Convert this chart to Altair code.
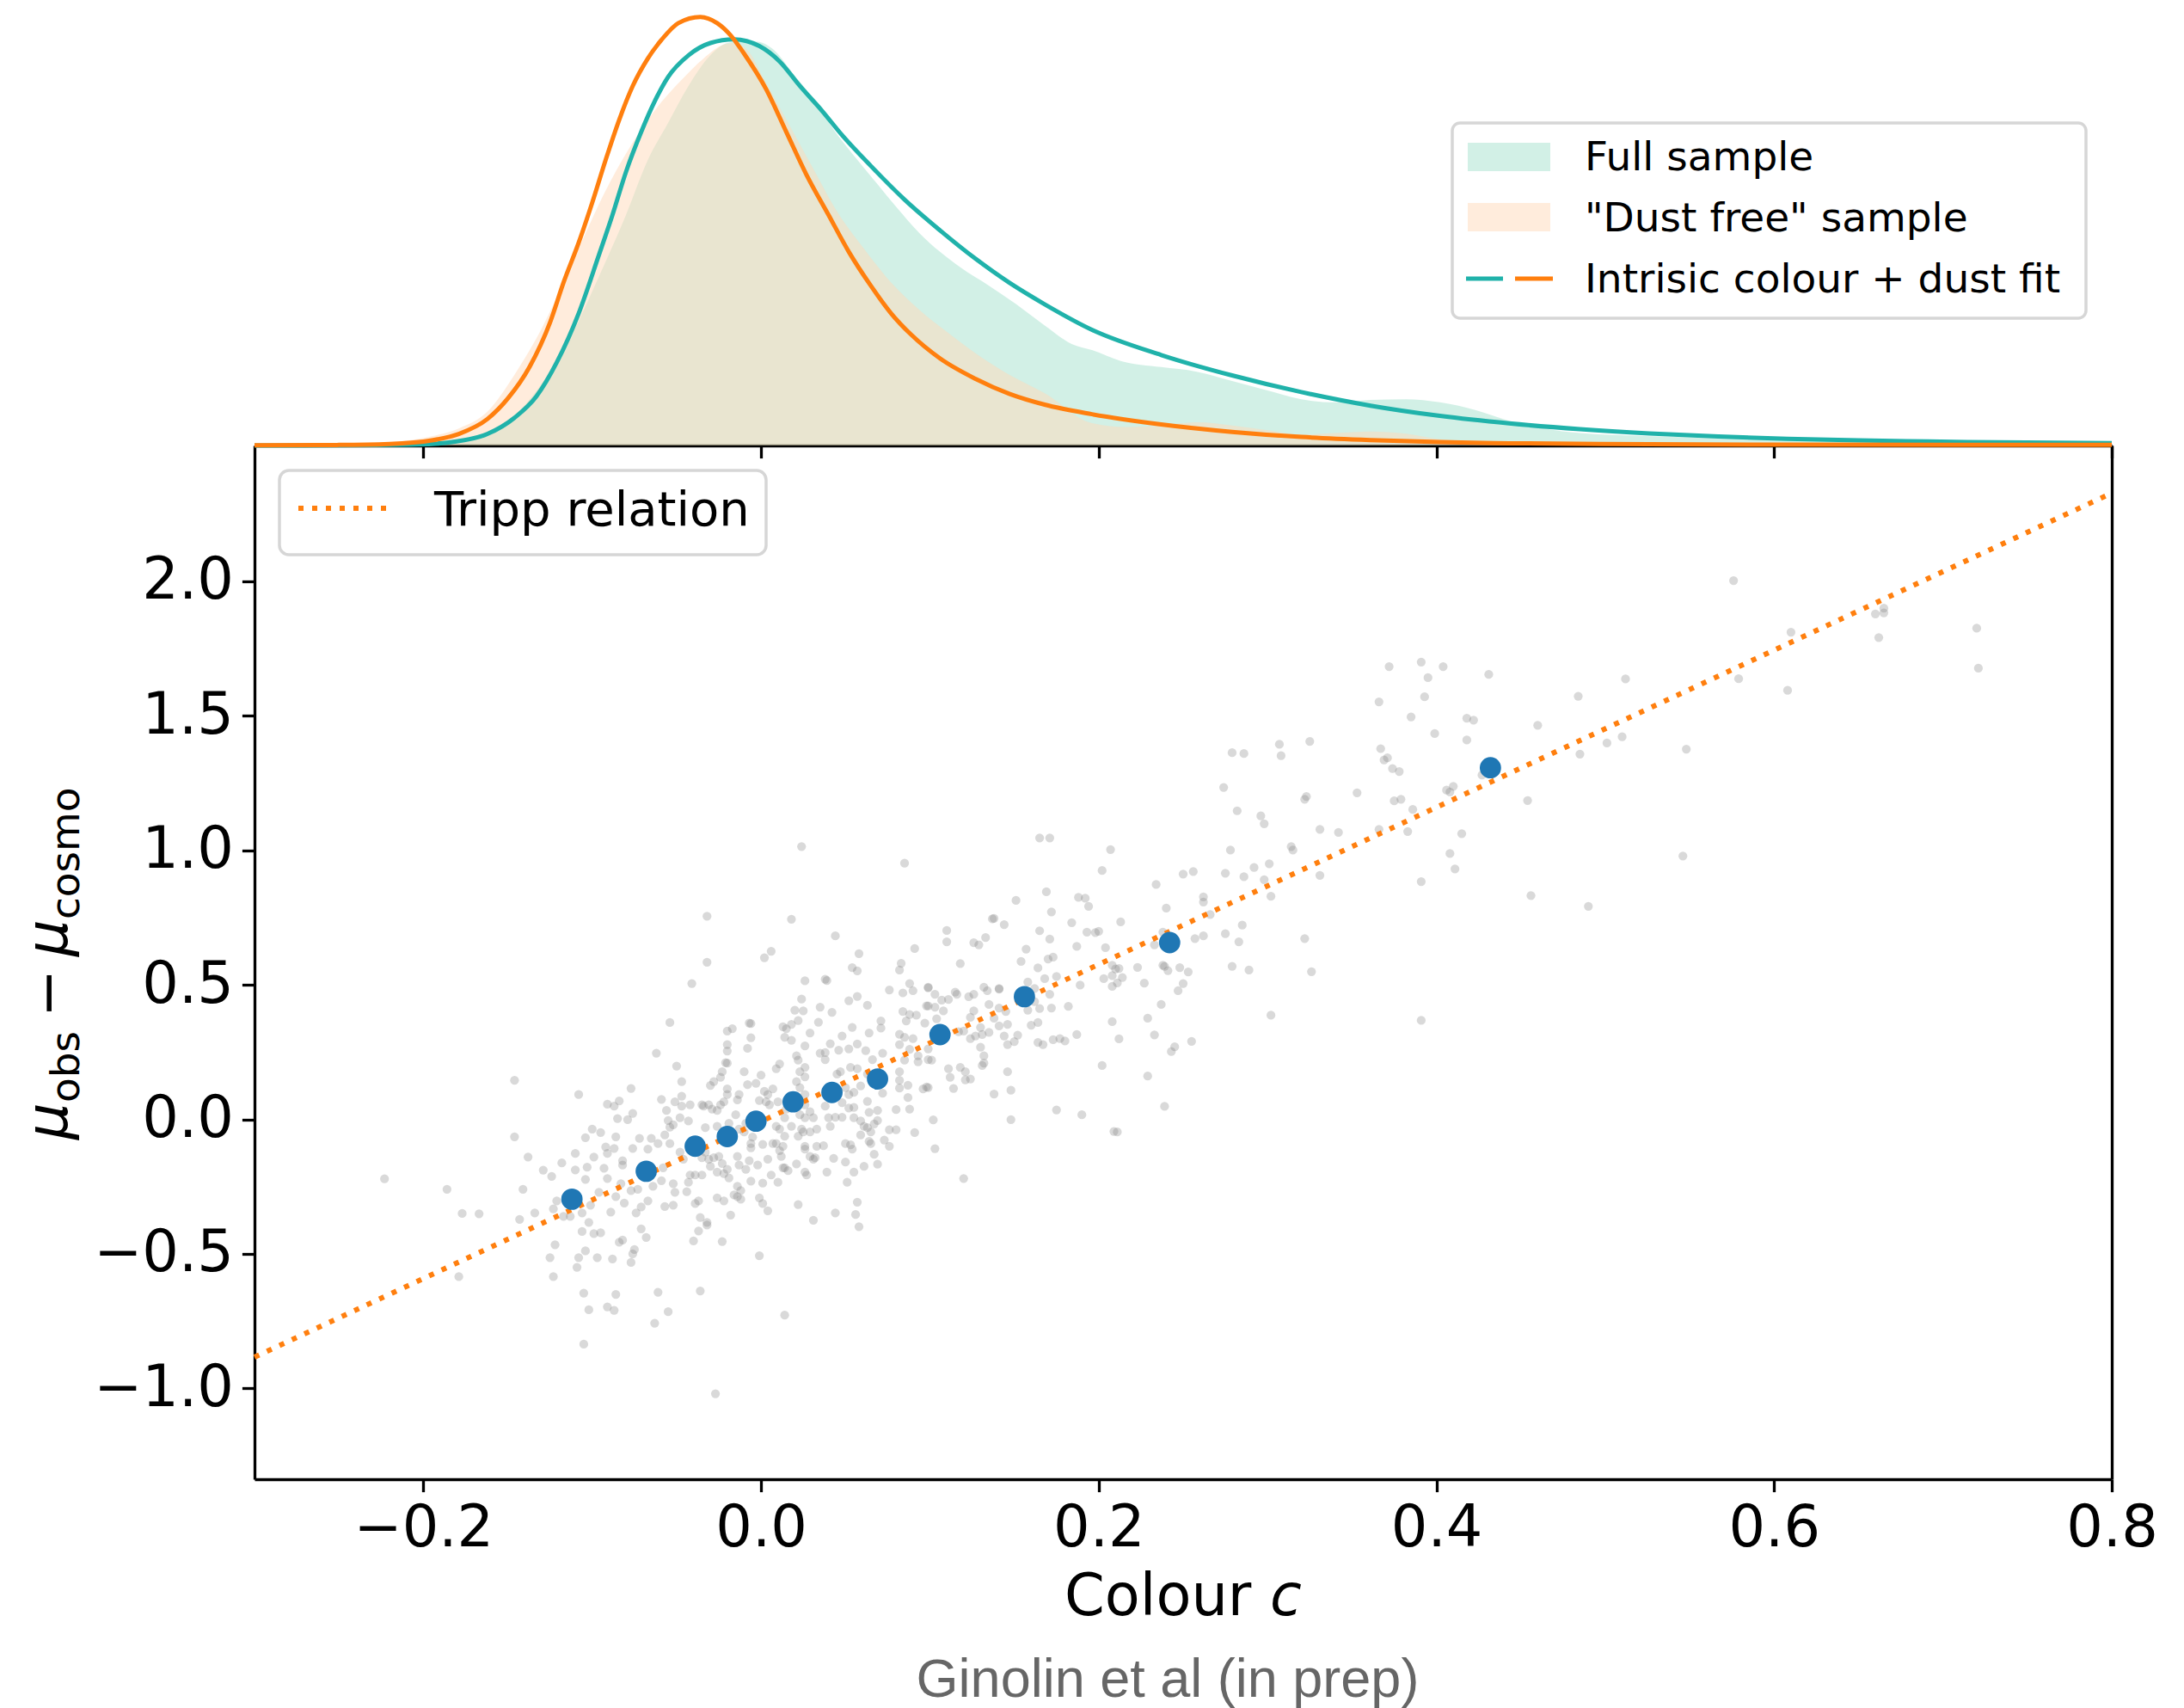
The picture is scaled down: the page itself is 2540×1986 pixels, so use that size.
import altair as alt
import pandas as pd

# ---------------- layout constants ----------------
W, H = 2160, 1720          # view: density panel (top) + main panel (bottom)
PANEL_TOP = 518            # pixel row where the main panel starts
X_DOMAIN = [-0.3, 0.8]
MU_DOMAIN = [-1.338, 2.505]
DENS_DOMAIN = [0, 6.548]
X_TICKS = [-0.2, 0.0, 0.2, 0.4, 0.6, 0.8]
MU_TICKS = [-1.0, -0.5, 0.0, 0.5, 1.0, 1.5, 2.0]

# ---------------- texts ----------------
X_LABEL = ["Colour", "c"]
Y_LABEL = ["μ", "obs", "−", "μ", "cosmo"]
CREDIT = "Ginolin et al (in prep)"
KDE_LEGEND = ["Full sample", "\"Dust free\" sample", "Intrisic colour + dust fit"]
MAIN_LEGEND = ["Tripp relation"]

# ---------------- scatter data (c, mu) ----------------
pts_left = [
(-0.146,0.145),(-0.108,0.092),(-0.077,0.115),(-0.146,-0.065),(-0.223,-0.221),(-0.138,-0.140),(-0.186,-0.260),(-0.141,-0.260),(-0.177,-0.350),(-0.167,-0.351),
(-0.129,-0.189),(-0.124,-0.212),(-0.118,-0.162),(-0.110,-0.127),(-0.110,-0.188),(-0.104,-0.068),(-0.100,-0.036),(-0.095,-0.049),(-0.091,0.056),(-0.087,0.049),
(-0.084,0.068),(-0.085,0.003),(-0.079,-0.001),(-0.076,0.022),(-0.086,-0.065),(-0.092,-0.103),(-0.087,-0.108),(-0.091,-0.127),(-0.099,-0.140),(-0.103,-0.178),
(-0.104,-0.223),(-0.093,-0.182),(-0.091,-0.220),(-0.082,-0.154),(-0.082,-0.170),(-0.076,-0.108),(-0.072,-0.071),(-0.067,-0.111),(-0.065,-0.071),(-0.061,-0.090),
(-0.059,0.074),(-0.056,0.033),(-0.055,-0.004),(-0.054,-0.029),(-0.057,-0.058),(-0.058,-0.180),(-0.059,-0.228),(-0.057,-0.324),(-0.067,-0.303),(-0.071,-0.326),
(-0.074,-0.348),(-0.071,-0.407),(-0.068,-0.439),(-0.081,-0.311),(-0.089,-0.345),(-0.086,-0.287),(-0.083,-0.239),(-0.077,-0.265),(-0.073,-0.260),(-0.064,-0.249),
(-0.096,-0.271),(-0.101,-0.319),(-0.106,-0.348),(-0.102,-0.383),(-0.113,-0.361),(-0.117,-0.361),(-0.121,-0.303),(-0.123,-0.333),(-0.134,-0.348),(-0.143,-0.372),
(-0.106,-0.417),(-0.099,-0.425),(-0.095,-0.422),(-0.122,-0.466),(-0.125,-0.514),(-0.108,-0.514),(-0.104,-0.489),(-0.109,-0.550),(-0.097,-0.514),(-0.088,-0.519),
(-0.084,-0.457),(-0.082,-0.449),(-0.075,-0.484),(-0.076,-0.500),(-0.077,-0.532),(-0.123,-0.585),(-0.179,-0.585),(-0.105,-0.646),(-0.102,-0.708),(-0.091,-0.697),
(-0.087,-0.710),(-0.086,-0.651),(-0.061,-0.643),(-0.055,-0.715),(-0.063,-0.758),(-0.105,-0.836),
(0.014,-0.728),(-0.027,-1.020),(-0.062,0.246),
]
pts_core = [
(-0.032,0.584),(0.002,0.601),(0.006,0.625),(-0.041,0.505),(0.058,0.616),(0.054,0.564),(0.057,0.552),(0.083,0.580),(0.082,0.555),(0.091,0.635),
(0.026,0.515),(0.038,0.521),(0.039,0.516),(0.024,0.447),(0.020,0.406),(0.025,0.403),(0.035,0.417),(0.042,0.398),(0.052,0.441),(0.057,0.457),
(0.063,0.424),(0.076,0.481),(0.084,0.470),(0.088,0.505),(0.090,0.478),(0.099,0.489),(0.098,0.422),(0.084,0.401),(0.088,0.390),(0.092,0.387),
(0.086,0.366),(0.097,0.358),(0.071,0.366),(0.071,0.339),(0.064,0.321),(0.054,0.342),(0.048,0.310),(0.052,0.262),(0.057,0.280),(0.062,0.255),
(0.066,0.222),(0.072,0.246),(0.082,0.316),(0.085,0.305),(0.090,0.300),(0.082,0.278),(0.088,0.260),(0.093,0.236),(0.093,0.214),(0.099,0.222),
(0.085,0.220),(0.082,0.177),(0.087,0.127),(0.082,0.145),(0.082,0.116),(0.087,0.081),(0.096,0.113),(0.098,0.120),(0.080,0.036),(0.088,0.038),
(0.091,-0.049),(0.076,-0.039),(0.080,-0.039),(0.076,-0.100),(0.073,-0.077),(0.069,-0.167),(0.067,-0.130),(0.065,-0.047),(0.064,-0.082),(0.067,-0.017),
(0.064,0.026),(0.069,0.033),(0.059,-0.006),(0.061,-0.026),(0.055,0.006),(0.055,0.044),(0.052,0.042),(0.048,0.062),(0.050,0.118),(0.052,0.092),
(0.055,0.100),(0.059,0.124),(0.063,0.067),(0.072,0.097),(0.063,0.168),(0.057,0.188),(0.053,0.193),(0.047,0.177),(0.045,0.168),(0.038,0.222),
(0.038,0.248),(0.035,0.246),(0.041,0.281),(0.046,0.257),(0.038,0.049),(0.040,0.006),(0.041,-0.026),(0.044,0.008),(0.048,0.008),(0.050,-0.090),
(0.053,-0.095),(0.054,-0.111),(0.059,-0.058),(0.065,-0.090),(0.061,-0.175),(0.050,-0.159),(0.055,-0.196),(0.051,-0.234),(0.043,-0.145),(0.039,-0.196),
(0.037,-0.098),(0.033,-0.036),(0.031,0.006),(0.029,0.028),(0.026,0.054),(0.026,0.092),(0.023,0.118),(0.021,0.140),(0.023,0.177),(0.026,0.158),
(0.026,0.193),(0.022,0.220),(0.021,0.236),(0.026,0.273),(0.029,0.321),(0.018,0.294),(0.014,0.305),(0.015,0.337),(0.013,0.344),(0.018,0.353),
(0.022,0.367),(0.034,0.361),(0.011,0.206),(0.009,0.188),(0.000,0.164),(-0.010,0.177),(-0.008,0.129),(-0.003,0.134),(0.002,0.104),(0.004,0.092),
(0.007,0.113),(0.003,0.065),(-0.001,0.070),(0.005,0.054),(0.010,0.065),(0.015,0.038),(0.014,0.006),(0.023,0.017),(0.026,0.006),(0.024,-0.036),
(0.022,-0.063),(0.025,-0.047),(0.026,-0.100),(0.029,-0.047),(0.033,-0.100),(0.026,-0.111),(0.029,-0.138),(0.031,-0.148),(0.032,-0.143),(0.027,-0.207),
(0.026,-0.196),(0.021,-0.166),(0.014,-0.180),(0.016,-0.191),(0.013,-0.180),(0.012,-0.138),(0.011,-0.116),(0.013,-0.100),(0.014,-0.063),(0.018,-0.026),
(0.011,-0.036),(0.009,-0.026),(0.007,-0.090),(0.009,-0.090),(0.004,-0.148),(0.006,-0.207),(0.010,-0.234),(0.001,-0.237),(-0.006,-0.230),(-0.002,-0.170),
(-0.009,-0.186),(-0.013,-0.170),(-0.014,-0.138),(-0.007,-0.154),(-0.006,-0.106),(-0.006,-0.090),(0.001,-0.093),(-0.005,-0.066),(-0.010,-0.047),(-0.013,-0.036),
(-0.009,-0.015),(-0.015,0.017),(-0.014,0.072),(-0.013,0.092),(-0.020,0.113),(-0.020,0.092),(-0.022,0.065),(-0.024,0.054),(-0.026,0.033),(-0.029,0.038),
(-0.031,0.054),(-0.034,0.049),(-0.035,0.054),(-0.042,0.054),(-0.047,0.049),(-0.051,0.065),(-0.047,0.086),(-0.047,0.140),(-0.050,0.198),(-0.054,0.360),
(-0.007,0.358),(-0.006,0.356),(-0.006,0.303),(-0.008,0.264),(-0.020,0.328),(-0.017,0.337),(-0.020,0.278),(-0.020,0.254),(-0.020,0.209),(-0.021,0.211),
(-0.023,0.177),(-0.024,0.156),(-0.028,0.140),(-0.030,0.126),(-0.019,-0.015),(-0.026,-0.026),(-0.033,-0.031),(-0.043,-0.006),(-0.048,0.006),(-0.052,-0.020),
(-0.054,-0.090),(-0.048,-0.122),(-0.046,-0.148),(-0.035,-0.143),(-0.033,-0.122),(-0.031,-0.148),(-0.028,-0.143),(-0.025,-0.138),(-0.023,-0.164),(-0.020,-0.186),
(-0.022,-0.202),(-0.019,-0.218),(-0.026,-0.196),(-0.030,-0.175),(-0.035,-0.207),(-0.039,-0.207),(-0.042,-0.207),(-0.043,-0.234),(-0.044,-0.269),(-0.052,-0.239),
(-0.051,-0.271),(-0.052,-0.319),(-0.037,-0.303),(-0.039,-0.313),(-0.026,-0.292),(-0.022,-0.303),(-0.014,-0.249),(-0.012,-0.265),(-0.014,-0.287),(-0.012,-0.297),
(-0.016,-0.281),(-0.001,-0.292),(0.001,-0.313),(0.004,-0.340),(-0.018,-0.356),(-0.036,-0.365),(-0.032,-0.383),(-0.032,-0.393),(-0.037,-0.415),(-0.040,-0.452),
(-0.023,-0.454),(-0.001,-0.507),(-0.036,-0.638),(0.022,-0.317),(0.031,-0.375),(0.044,-0.348),(0.057,-0.308),(0.056,-0.354),(0.058,-0.399),(0.063,-0.031),
(0.069,-0.004),
(0.024,1.014),(-0.032,0.755),(0.018,0.744),(0.044,0.682),
]
pts_mid = [
(0.202,0.925),(0.169,0.846),(0.151,0.814),(0.188,0.825),(0.192,0.822),(0.194,0.792),(0.172,0.771),(0.138,0.747),(0.137,0.745),(0.144,0.724),
(0.110,0.702),(0.110,0.660),(0.126,0.657),(0.129,0.649),(0.133,0.676),(0.165,0.701),(0.171,0.670),(0.184,0.731),(0.193,0.696),(0.198,0.694),
(0.200,0.699),(0.187,0.643),(0.204,0.638),(0.157,0.633),(0.154,0.587),(0.164,0.563),(0.170,0.596),(0.173,0.603),(0.118,0.579),(0.168,0.523),
(0.175,0.531),(0.208,0.573),(0.210,0.559),(0.208,0.534),(0.203,0.523),(0.208,0.494),(0.189,0.499),(0.158,0.510),(0.162,0.486),(0.171,0.465),
(0.172,0.414),(0.182,0.420),(0.165,0.412),(0.162,0.438),(0.158,0.406),(0.160,0.350),(0.164,0.360),(0.146,0.353),(0.141,0.347),(0.145,0.401),
(0.141,0.414),(0.135,0.427),(0.138,0.376),(0.132,0.491),(0.134,0.478),(0.141,0.484),(0.141,0.486),(0.126,0.465),(0.123,0.456),(0.115,0.473),
(0.116,0.465),(0.111,0.446),(0.107,0.443),(0.103,0.465),(0.099,0.491),(0.099,0.422),(0.103,0.417),(0.108,0.403),(0.104,0.374),(0.126,0.403),
(0.124,0.379),(0.130,0.342),(0.127,0.310),(0.124,0.300),(0.131,0.315),(0.135,0.323),(0.144,0.310),(0.146,0.278),(0.150,0.289),(0.152,0.313),
(0.164,0.286),(0.167,0.278),(0.173,0.296),(0.177,0.300),(0.180,0.291),(0.187,0.315),(0.208,0.363),(0.130,0.268),(0.132,0.236),(0.132,0.209),
(0.131,0.200),(0.117,0.326),(0.120,0.328),(0.101,0.220),(0.099,0.262),(0.111,0.188),(0.118,0.193),(0.121,0.177),(0.124,0.150),(0.112,0.156),
(0.121,0.147),(0.114,0.115),(0.099,0.118),(0.138,0.094),(0.148,0.108),(0.146,0.177),(0.202,0.200),(0.175,0.035),(0.190,0.017),(0.148,-0.001),
(0.102,-0.002),(0.103,-0.109),(0.120,-0.220),(0.209,-0.045),
(0.165,1.046),(0.171,1.046),(0.085,0.952),(0.207,1.003),
]
pts_upper = [
(0.279,1.363),(0.286,1.360),(0.307,1.394),(0.308,1.352),(0.325,1.405),(0.367,1.378),(0.371,1.344),(0.369,1.336),(0.374,1.304),(0.378,1.293),
(0.274,1.234),(0.282,1.147),(0.296,1.128),(0.298,1.099),(0.322,1.190),(0.323,1.200),(0.353,1.214),(0.375,1.184),(0.379,1.190),(0.386,1.152),
(0.331,1.078),(0.342,1.067),(0.366,1.078),(0.383,1.070),(0.278,1.001),(0.314,1.014),(0.315,1.001),(0.250,0.912),(0.256,0.921),(0.275,0.915),
(0.286,0.902),(0.292,0.936),(0.301,0.950),(0.298,0.891),(0.302,0.829),(0.331,0.907),(0.234,0.873),(0.240,0.785),(0.262,0.827),(0.262,0.808),
(0.266,0.761),(0.213,0.734),(0.238,0.696),(0.233,0.649),(0.257,0.672),(0.262,0.682),(0.275,0.690),(0.285,0.722),(0.283,0.660),(0.322,0.672),
(0.238,0.573),(0.239,0.569),(0.241,0.553),(0.248,0.564),(0.253,0.548),(0.223,0.565),(0.212,0.561),(0.214,0.527),(0.211,0.507),(0.227,0.506),
(0.250,0.505),(0.247,0.478),(0.279,0.569),(0.289,0.555),(0.326,0.549),(0.237,0.427),(0.229,0.376),(0.233,0.314),(0.212,0.299),(0.245,0.270),
(0.243,0.252),(0.255,0.290),(0.302,0.387),(0.229,0.161),(0.239,0.048),(0.211,-0.047),
(0.372,1.683),(0.366,1.552),(0.385,1.496),
]
pts_right = [
(0.576,2.003),(0.391,1.700),(0.404,1.683),(0.395,1.642),(0.431,1.654),(0.393,1.571),(0.512,1.637),(0.484,1.573),(0.418,1.491),(0.422,1.484),
(0.460,1.465),(0.399,1.434),(0.418,1.410),(0.501,1.399),(0.510,1.422),(0.485,1.358),(0.548,1.376),(0.610,1.811),(0.579,1.638),(0.608,1.595),
(0.660,1.879),(0.665,1.900),(0.665,1.883),(0.662,1.791),(0.720,1.826),(0.721,1.677),(0.427,1.280),(0.406,1.224),(0.410,1.238),(0.408,1.217),
(0.454,1.185),(0.415,1.062),(0.408,0.988),(0.411,0.931),(0.391,0.884),(0.456,0.832),(0.490,0.792),(0.546,0.979),(0.391,0.368),
]

# binned means
bin_c = [-0.112, -0.068, -0.039, -0.020, -0.003, 0.019, 0.042, 0.069, 0.106, 0.156, 0.242, 0.432]
bin_mu = [-0.297, -0.193, -0.100, -0.064, -0.007, 0.065, 0.100, 0.150, 0.315, 0.456, 0.657, 1.307]

# Tripp relation (end points read at the axis limits)
tripp_c = [-0.3, 0.8]
tripp_mu = [-0.884, 2.328]

# ---------------- density panel ----------------
full_c = [-0.300,-0.250,-0.203,-0.183,-0.162,-0.137,-0.113,-0.096,-0.080,-0.067,-0.055,-0.043,-0.030,-0.020,-0.012,-0.003,0.007,0.019,0.032,0.044,
          0.057,0.069,0.081,0.094,0.106,0.118,0.135,0.151,0.168,0.184,0.196,0.213,0.237,0.258,0.279,0.299,0.320,0.340,0.361,0.382,
          0.402,0.423,0.443,0.464,0.485,0.526,0.567,0.608,0.650,0.691,0.732,0.800]
full_d = [0.0,0.003,0.010,0.047,0.137,0.679,1.582,2.485,3.388,4.200,4.742,5.283,5.735,5.916,5.939,5.939,5.826,5.465,5.058,4.607,
          4.200,3.839,3.478,3.117,2.846,2.620,2.349,2.079,1.763,1.492,1.402,1.243,1.152,1.085,0.949,0.814,0.679,0.634,0.670,0.679,
          0.634,0.521,0.363,0.250,0.182,0.137,0.115,0.101,0.092,0.079,0.047,0.024]
dust_c = [-0.300,-0.245,-0.220,-0.195,-0.179,-0.162,-0.146,-0.129,-0.117,-0.104,-0.092,-0.080,-0.063,-0.047,-0.034,-0.022,-0.016,-0.007,0.001,0.009,
          0.019,0.032,0.044,0.061,0.077,0.094,0.110,0.127,0.147,0.168,0.196,0.217,0.237,0.258,0.279,0.299,0.320,0.340,0.361,0.382,
          0.402,0.443,0.526,0.800]
dust_d = [0.010,0.024,0.047,0.137,0.250,0.498,1.040,1.762,2.394,3.116,3.748,4.290,4.923,5.374,5.690,5.893,5.916,5.781,5.419,5.058,
          4.607,4.020,3.478,2.891,2.395,1.989,1.673,1.357,1.040,0.769,0.330,0.273,0.295,0.341,0.295,0.228,0.160,0.182,0.205,0.173,
          0.092,0.047,0.024,0.010]
fitf_c = [-0.300,-0.250,-0.203,-0.183,-0.162,-0.146,-0.133,-0.121,-0.108,-0.096,-0.088,-0.080,-0.071,-0.063,-0.055,-0.043,-0.030,-0.016,-0.001,0.011,
          0.023,0.036,0.048,0.065,0.085,0.106,0.127,0.147,0.168,0.196,0.237,0.279,0.320,0.361,0.402,0.443,0.485,0.526,0.567,0.608,
          0.650,0.691,0.732,0.800]
fitf_d = [0.0,0.003,0.015,0.050,0.170,0.408,0.724,1.221,1.943,2.801,3.388,4.020,4.607,5.058,5.419,5.735,5.916,5.970,5.871,5.645,
          5.284,4.923,4.562,4.110,3.614,3.162,2.745,2.393,2.075,1.700,1.330,1.030,0.785,0.585,0.435,0.325,0.240,0.178,0.132,0.098,
          0.075,0.059,0.047,0.035]
fitd_c = [-0.300,-0.250,-0.220,-0.195,-0.179,-0.162,-0.150,-0.137,-0.125,-0.117,-0.108,-0.100,-0.092,-0.084,-0.076,-0.067,-0.059,-0.049,-0.036,-0.026,
          -0.018,-0.010,0.003,0.015,0.027,0.040,0.052,0.065,0.077,0.089,0.106,0.127,0.147,0.168,0.196,0.237,0.279,0.320,0.361,0.402,
          0.443,0.526,0.608,0.800]
fitd_d = [0.004,0.008,0.022,0.075,0.170,0.390,0.690,1.160,1.807,2.394,2.981,3.568,4.200,4.787,5.283,5.690,5.961,6.209,6.299,6.209,
          6.029,5.758,5.238,4.606,3.974,3.387,2.846,2.349,1.943,1.627,1.280,0.980,0.760,0.600,0.460,0.310,0.200,0.125,0.080,0.050,
          0.033,0.018,0.012,0.008]

# ---------------- styles ----------------
TEAL = "#20b2aa"
TEAL_FILL = "#1db584"
PEACH_FILL = "#ffdab9"
ORANGE = "#ff7f0e"
BLUE = "#1f77b4"
FONT = "DejaVu Sans"
LW = 3.3
TICK = 14.6

pts = pts_left + pts_core + pts_mid + pts_upper + pts_right
df_pts = pd.DataFrame(pts, columns=["c", "mu"])
df_bin = pd.DataFrame({"c": bin_c, "mu": bin_mu})
df_tripp = pd.DataFrame({"c": tripp_c, "mu": tripp_mu})
df_full = pd.DataFrame({"c": full_c, "d": full_d})
df_dust = pd.DataFrame({"c": dust_c, "d": dust_d})
df_fitf = pd.DataFrame({"c": fitf_c, "d": fitf_d})
df_fitd = pd.DataFrame({"c": fitd_c, "d": fitd_d})

xs = alt.Scale(domain=X_DOMAIN, nice=False, zero=False)
mus = alt.Scale(domain=MU_DOMAIN, range=[H, PANEL_TOP], nice=False, zero=False)
ds = alt.Scale(domain=DENS_DOMAIN, range=[PANEL_TOP, 0], nice=False, zero=False)

# --- density panel
kde_x = alt.X("c:Q", scale=xs, title=None,
              axis=alt.Axis(orient="bottom", offset=-(H - PANEL_TOP), values=X_TICKS, labels=False,
                            ticks=True, tickSize=TICK, tickWidth=LW, tickColor="black",
                            domain=True, domainColor="black", domainWidth=LW, grid=False, title=None))
kde_y = alt.Y("d:Q", scale=ds, axis=None)
full_fill = alt.Chart(df_full).mark_area(color=TEAL_FILL, opacity=0.2, interpolate="monotone").encode(x=kde_x, y=kde_y)
dust_fill = alt.Chart(df_dust).mark_area(color=PEACH_FILL, opacity=0.5, interpolate="monotone").encode(x=kde_x, y=kde_y)
fitf_line = alt.Chart(df_fitf).mark_line(color=TEAL, strokeWidth=5, interpolate="monotone").encode(x=kde_x, y=kde_y)
fitd_line = alt.Chart(df_fitd).mark_line(color=ORANGE, strokeWidth=5, interpolate="monotone").encode(x=kde_x, y=kde_y)
kde_group = alt.layer(full_fill, dust_fill, fitf_line, fitd_line)

# --- main panel
mx = alt.X("c:Q", scale=xs, title=None,
           axis=alt.Axis(orient="bottom", values=X_TICKS, format=".1f", labelFont=FONT, labelFontSize=67,
                         labelColor="black", labelPadding=10, tickSize=TICK, tickWidth=LW, tickColor="black",
                         domainColor="black", domainWidth=LW, grid=False, title=None,
                         labelFlush=False, labelOverlap=False, labelBound=False))
my = alt.Y("mu:Q", scale=mus, title=None,
           axis=alt.Axis(orient="left", values=MU_TICKS, format=".1f", labelFont=FONT, labelFontSize=67,
                         labelColor="black", labelPadding=10, tickSize=TICK, tickWidth=LW, tickColor="black",
                         domainColor="black", domainWidth=LW, grid=False, title=None,
                         labelFlush=False, labelOverlap=False, labelBound=False))
scatter = alt.Chart(df_pts).mark_circle(size=105, color="#808080", opacity=0.3).encode(x=mx, y=my)
tripp = alt.Chart(df_tripp).mark_line(color=ORANGE, strokeWidth=6, strokeDash=[6, 10]).encode(x=mx, y=my)
bins = alt.Chart(df_bin).mark_circle(size=616, color=BLUE, opacity=1).encode(x=mx, y=my)
main_group = alt.layer(scatter, tripp, bins)

# --- right spine of the main panel
spine = alt.Chart(df_tripp).mark_line(strokeOpacity=0).encode(
    x=alt.X("c:Q", scale=xs, axis=None),
    y=alt.Y("mu:Q", scale=mus,
            axis=alt.Axis(orient="right", ticks=False, labels=False, domainColor="black",
                          domainWidth=LW, grid=False, title=None)))


def text_mark(txt, x, y, **kw):
    return alt.Chart(pd.DataFrame({"t": [txt]})).mark_text(**kw).encode(
        x=alt.value(x), y=alt.value(y), text="t:N")


def rect_mark(x1, y1, x2, y2, **kw):
    return alt.Chart(pd.DataFrame({"k": [0]})).mark_rect(**kw).encode(
        x=alt.value(x1), x2=alt.value(x2), y=alt.value(y1), y2=alt.value(y2))


def rule_mark(x1, x2, y, **kw):
    return alt.Chart(pd.DataFrame({"k": [0]})).mark_rule(**kw).encode(
        x=alt.value(x1), x2=alt.value(x2), y=alt.value(y))


deco = []
# x axis title  "Colour c"
deco.append(text_mark(X_LABEL[0], 942, 1878, font=FONT, fontSize=67, align="left", baseline="alphabetic", color="black"))
deco.append(text_mark(X_LABEL[1], 1181, 1878, font=FONT, fontSize=67, fontStyle="italic", align="left", baseline="alphabetic", color="black"))
# y axis title  mu_obs - mu_cosmo (rotated)
YB = -218
YS = -204
deco.append(text_mark(Y_LABEL[0], YB, 1325, font=FONT, fontSize=67, fontStyle="italic", angle=270, align="left", baseline="alphabetic", color="black"))
deco.append(text_mark(Y_LABEL[1], YS, 1282, font=FONT, fontSize=47, angle=270, align="left", baseline="alphabetic", color="black"))
deco.append(text_mark(Y_LABEL[2], YB, 1183, font=FONT, fontSize=67, angle=270, align="left", baseline="alphabetic", color="black"))
deco.append(text_mark(Y_LABEL[3], YB, 1112, font=FONT, fontSize=67, fontStyle="italic", angle=270, align="left", baseline="alphabetic", color="black"))
deco.append(text_mark(Y_LABEL[4], YS, 1069, font=FONT, fontSize=47, angle=270, align="left", baseline="alphabetic", color="black"))
# credit line
deco.append(text_mark(CREDIT, 1062, 1973, font="Liberation Sans", fontSize=63, align="center", baseline="alphabetic", color="#666666"))

# density legend
deco.append(rect_mark(1393, 143, 2130, 370, fill="white", fillOpacity=0.8, stroke="#d6d6d6", strokeWidth=3.5, cornerRadius=9))
deco.append(rect_mark(1411, 166, 1507, 199, fill=TEAL_FILL, fillOpacity=0.2))
deco.append(rect_mark(1411, 236, 1507, 269, fill=PEACH_FILL, fillOpacity=0.5))
deco.append(rule_mark(1409, 1452, 324, color=TEAL, strokeWidth=5))
deco.append(rule_mark(1466, 1510, 324, color=ORANGE, strokeWidth=5))
for i, lab in enumerate(KDE_LEGEND):
    deco.append(text_mark(lab, 1547, [198, 269, 340][i], font=FONT, fontSize=47, align="left", baseline="alphabetic", color="black"))

# main legend
deco.append(rect_mark(29, 547, 595, 645, fill="white", fillOpacity=0.8, stroke="#d6d6d6", strokeWidth=3.5, cornerRadius=11))
deco.append(rule_mark(51, 163, 591, color=ORANGE, strokeWidth=6, strokeDash=[6, 10]))
deco.append(text_mark(MAIN_LEGEND[0], 209, 611, font=FONT, fontSize=56, align="left", baseline="alphabetic", color="black"))

chart = alt.layer(kde_group, main_group, spine, *deco).resolve_scale(
    x="independent", y="independent"
).properties(
    width=W, height=H,
    autosize=alt.AutoSizeParams(type="none"),
    padding={"left": 296, "top": 0, "right": 84, "bottom": 266},
).configure(background="white").configure_view(stroke=None)

chart.save("out.html", embed_options={"renderer": "svg", "actions": False})
